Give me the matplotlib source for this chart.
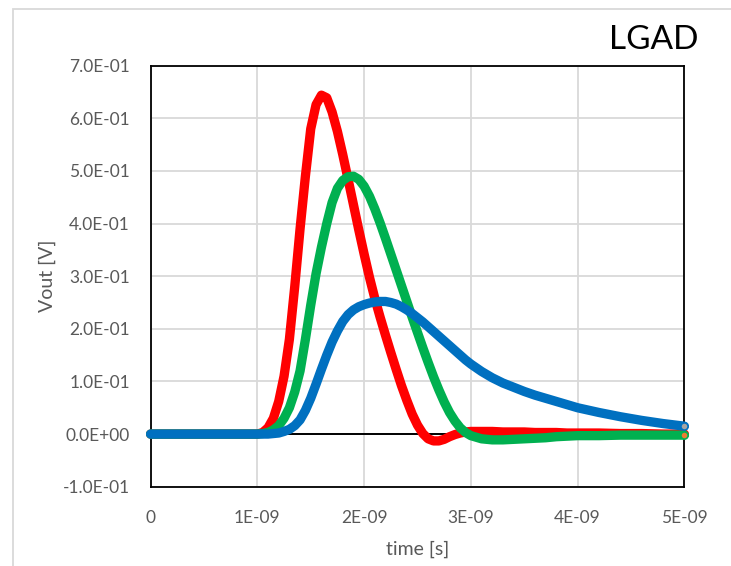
import numpy as np
import matplotlib
matplotlib.use("Agg")
import matplotlib.pyplot as plt
from matplotlib.ticker import FuncFormatter, FixedLocator
from matplotlib.patches import Rectangle

# ---- data (time in ns, output voltage in V) ----
time_ns = [0.0, 0.5, 1.0,
           1.05, 1.10, 1.15, 1.20, 1.25, 1.30, 1.35, 1.40, 1.45, 1.50,
           1.55, 1.60, 1.65, 1.70, 1.75, 1.80, 1.85, 1.90, 1.95, 2.00,
           2.05, 2.10, 2.15, 2.20, 2.25, 2.30, 2.35, 2.40, 2.45, 2.50,
           2.55, 2.60, 2.65, 2.70, 2.75, 2.80, 2.85, 2.90, 2.95, 3.00,
           3.1, 3.2, 3.3, 3.4, 3.5, 3.6, 3.7, 3.8, 3.9, 4.0,
           4.2, 4.4, 4.6, 4.8, 5.0]

vout_red = [0.0, 0.0, 0.0,
            0.003, 0.012, 0.030, 0.062, 0.110, 0.180, 0.280, 0.390, 0.490, 0.580,
            0.626, 0.644, 0.639, 0.612, 0.575, 0.531, 0.484, 0.436, 0.388, 0.342,
            0.298, 0.258, 0.222, 0.188, 0.155, 0.123, 0.092, 0.064, 0.038, 0.017,
            0.001, -0.009, -0.013, -0.013, -0.010, -0.005, -0.001, 0.002, 0.004, 0.005,
            0.005, 0.005, 0.004, 0.004, 0.004, 0.003, 0.003, 0.003, 0.002, 0.002,
            0.002, 0.001, 0.001, 0.000, 0.000]

vout_green = [0.0, 0.0, 0.0,
              0.001, 0.003, 0.008, 0.016, 0.030, 0.050, 0.080, 0.120, 0.180, 0.245,
              0.305, 0.355, 0.400, 0.440, 0.467, 0.482, 0.489, 0.490, 0.484, 0.471,
              0.452, 0.428, 0.401, 0.372, 0.342, 0.312, 0.282, 0.252, 0.222, 0.193,
              0.164, 0.136, 0.109, 0.084, 0.061, 0.041, 0.025, 0.012, 0.003, -0.003,
              -0.009, -0.011, -0.011, -0.010, -0.009, -0.008, -0.007, -0.005, -0.004, -0.003,
              -0.003, -0.002, -0.002, -0.002, -0.002]

vout_blue = [0.0, 0.0, 0.0,
             0.000, 0.000, 0.001, 0.002, 0.005, 0.009, 0.016, 0.027, 0.045, 0.068,
             0.095, 0.123, 0.150, 0.175, 0.196, 0.214, 0.227, 0.236, 0.242, 0.246,
             0.249, 0.251, 0.252, 0.252, 0.250, 0.247, 0.242, 0.236, 0.229, 0.221,
             0.213, 0.204, 0.195, 0.186, 0.177, 0.168, 0.159, 0.150, 0.141, 0.133,
             0.119, 0.107, 0.097, 0.089, 0.081, 0.074, 0.068, 0.062, 0.056, 0.050,
             0.041, 0.033, 0.026, 0.020, 0.015]

x_ticks = [0, 1e-9, 2e-9, 3e-9, 4e-9, 5e-9]
y_ticks = [-0.1, 0.0, 0.1, 0.2, 0.3, 0.4, 0.5, 0.6, 0.7]

plt.rcParams['font.family'] = ['Lato', 'DejaVu Sans']
TXT = '#595959'
GRID = '#D9D9D9'

t = np.array(time_ns) * 1e-9

fig = plt.figure(figsize=(7.31, 5.66), dpi=100)
# chart area border
fig.patches.append(Rectangle((13 / 731, -0.1), 1.2, 1.1 - 9 / 566,
                             transform=fig.transFigure, fill=False,
                             edgecolor=GRID, lw=1.3))

ax = fig.add_axes([150.6 / 731, 1 - 486.7 / 566, (684.4 - 150.6) / 731, (486.7 - 65.7) / 566])

ax.set_xlim(0, 5e-9)
ax.set_ylim(-0.1, 0.7)
ax.xaxis.set_major_locator(FixedLocator(x_ticks))
ax.yaxis.set_major_locator(FixedLocator(y_ticks))


def fmt_x(v, pos):
    if abs(v) < 1e-15:
        return "0"
    return f"{v:.0E}"


def fmt_y(v, pos):
    v = round(v, 6)
    if v == 0:
        v = 0.0
    return f"{v:.1E}"


ax.xaxis.set_major_formatter(FuncFormatter(fmt_x))
ax.yaxis.set_major_formatter(FuncFormatter(fmt_y))

ax.grid(True, color=GRID, lw=1.3)
ax.set_axisbelow(True)
for s in ax.spines.values():
    s.set_color('black')
    s.set_linewidth(1.3)
ax.tick_params(length=0, labelsize=12.5, colors=TXT)
ax.tick_params(axis='y', pad=15)
ax.tick_params(axis='x', pad=17)

# horizontal axis at zero
ax.axhline(0, color='black', lw=1.4, zorder=1.5)

lw = 6.7
ax.plot(t, vout_red, color='#FF0000', lw=lw, solid_capstyle='round', solid_joinstyle='round', zorder=3, clip_on=False)
ax.plot(t, vout_green, color='#00B050', lw=lw, solid_capstyle='round', solid_joinstyle='round', zorder=4, clip_on=False)
ax.plot(t, vout_blue, color='#0070C0', lw=lw, solid_capstyle='round', solid_joinstyle='round', zorder=5, clip_on=False)

# last-point markers
ax.plot(t[-1], vout_green[-1], 'o', ms=5, mfc='#ED7D31', mec='#00B050', mew=1, zorder=6, clip_on=False)
ax.plot(t[-1], vout_blue[-1], 'o', ms=5, mfc='#A5A5A5', mec='#0070C0', mew=1, zorder=6, clip_on=False)

ax.set_xlabel("time [s]", fontsize=14, color=TXT, labelpad=10)
ax.set_ylabel("Vout [V]", fontsize=14, color=TXT, labelpad=5)

fig.text(699 / 731, 1 - 40 / 566, "LGAD", fontsize=24, color='black', ha='right', va='center')

fig.savefig("out.png", dpi=100)
